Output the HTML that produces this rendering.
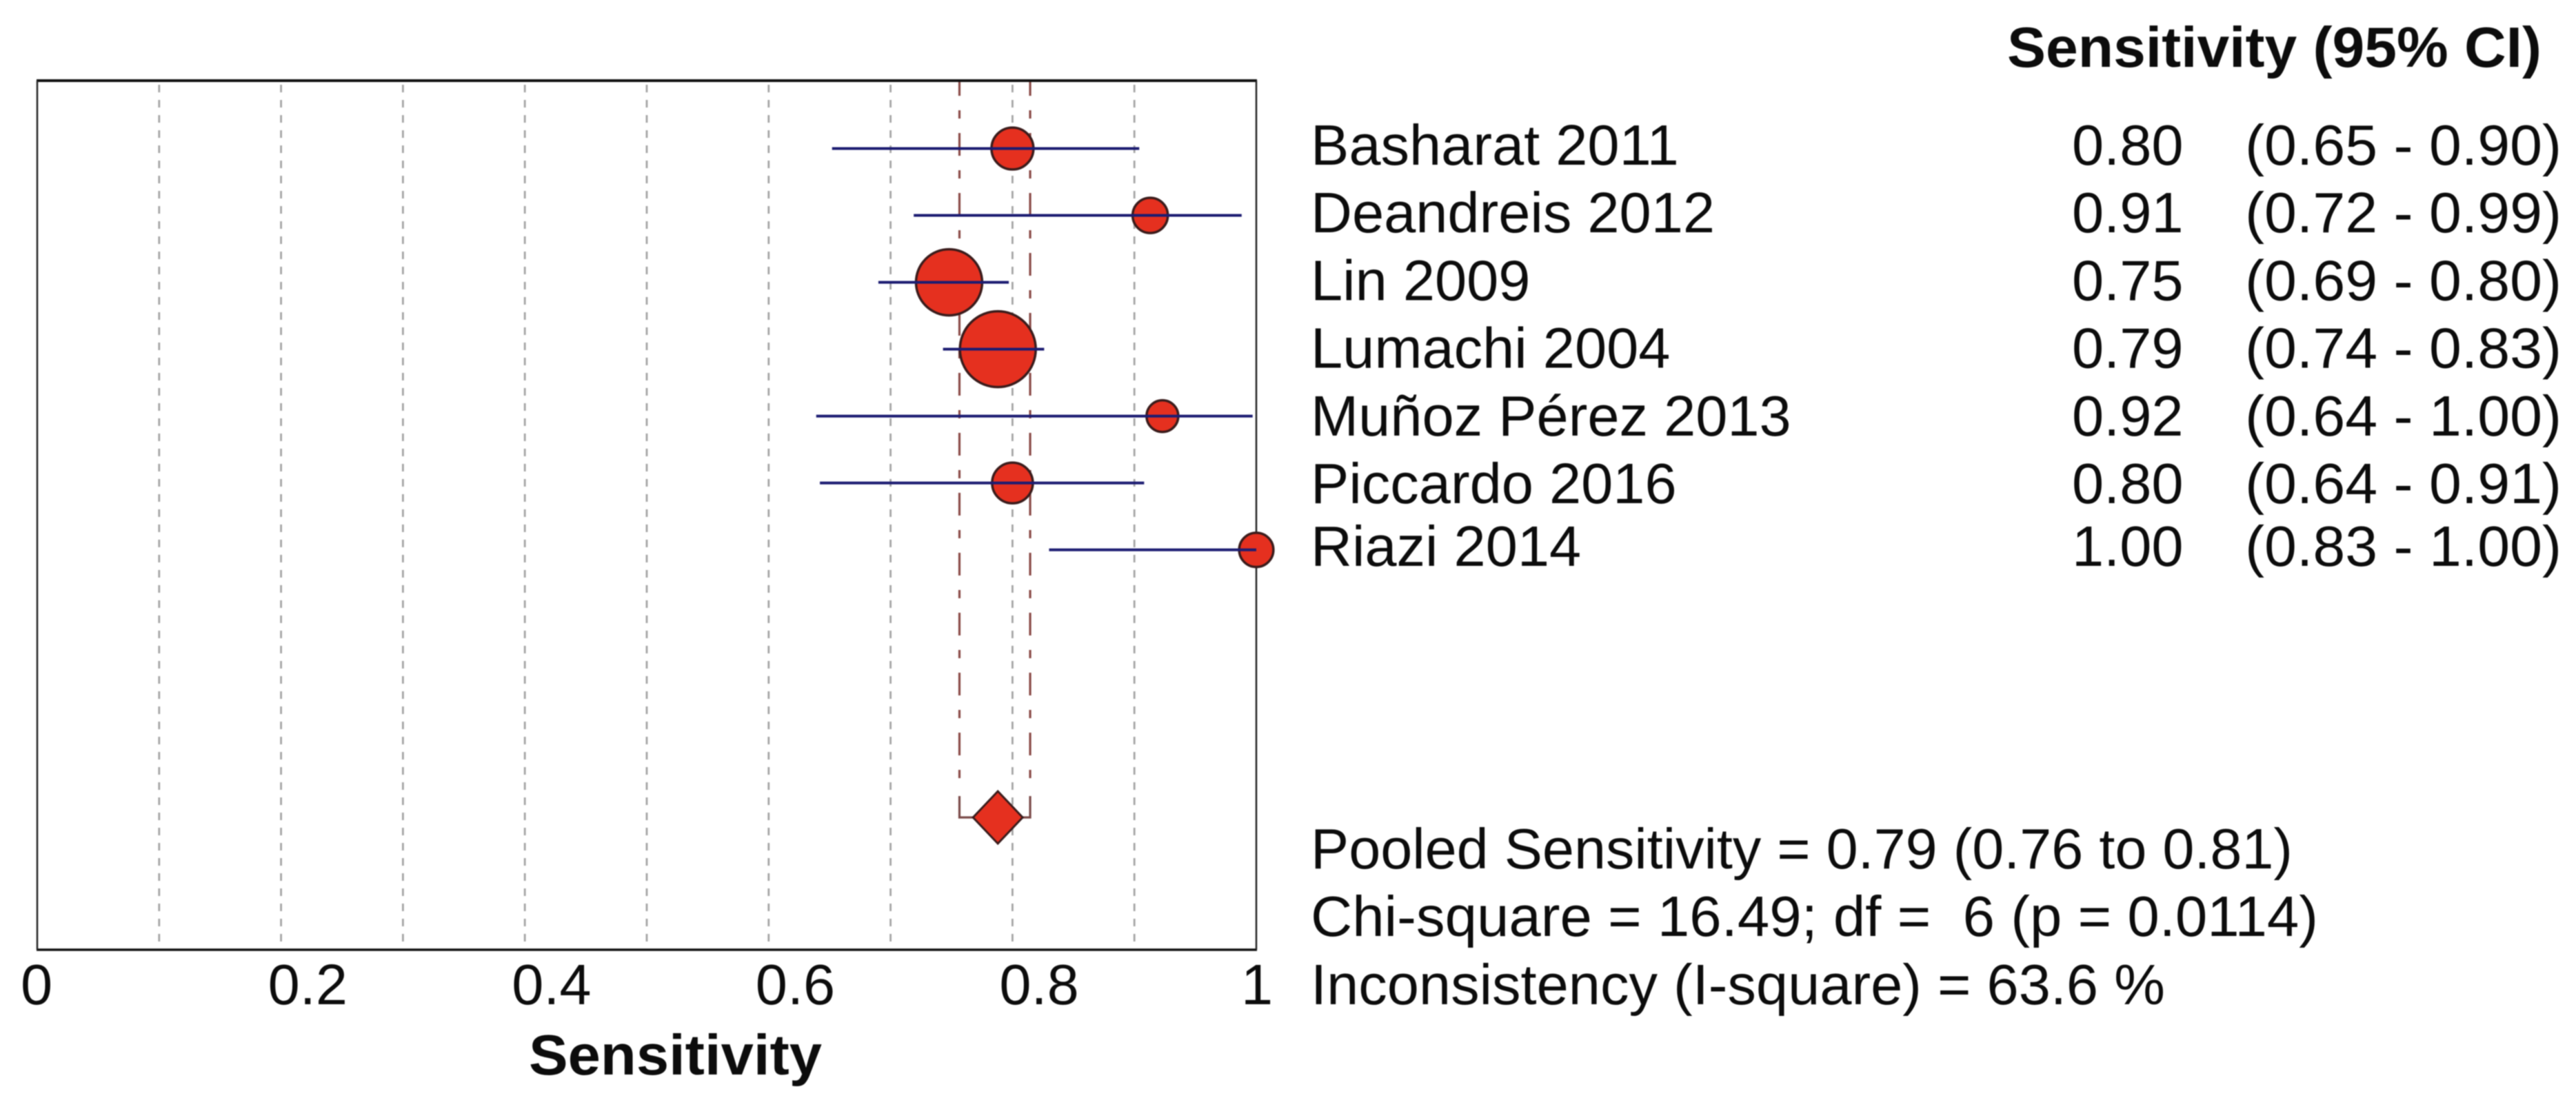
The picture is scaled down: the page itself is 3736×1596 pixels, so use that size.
<!DOCTYPE html>
<html lang="en">
<head>
<meta charset="utf-8">
<title>Sensitivity forest plot</title>
<style>
html,body{margin:0;padding:0;background:#fff;}
body{width:3736px;height:1596px;overflow:hidden;}
svg{display:block;filter:blur(0.7px);}
text{font-family:"Liberation Sans",Arial,sans-serif;font-size:83px;fill:#0c0c0c;white-space:pre;}
.b{font-weight:bold;}
</style>
</head>
<body>
<svg id="chart" xmlns="http://www.w3.org/2000/svg" width="3736" height="1596" viewBox="0 0 3736 1596">
  <rect x="0" y="0" width="3736" height="1596" fill="#ffffff"/>
  <g id="grid"></g>
  <g id="pooled"></g>
  <g id="marks"></g>
  <line x1="53" x2="1823" y1="117" y2="117" stroke="#111" stroke-width="4"/>
  <line x1="53" x2="1823" y1="1378" y2="1378" stroke="#111" stroke-width="3.5"/>
  <line x1="54" x2="54" y1="117" y2="1378" stroke="#222" stroke-width="2.5"/>
  <line x1="1822" x2="1822" y1="117" y2="1378" stroke="#222" stroke-width="2.5"/>
  <g id="riazi-top"></g>
  <g id="ticks"></g>
  <text class="b" x="767" y="1559" textLength="425" lengthAdjust="spacingAndGlyphs">Sensitivity</text>
  <text class="b" x="2911" y="97" textLength="775" lengthAdjust="spacingAndGlyphs">Sensitivity (95% CI)</text>
  <g id="table"></g>
  <text x="1901" y="1260" textLength="1424" lengthAdjust="spacingAndGlyphs">Pooled Sensitivity = 0.79 (0.76 to 0.81)</text>
  <text x="1901" y="1358" textLength="1461" lengthAdjust="spacingAndGlyphs">Chi-square = 16.49; df =  6 (p = 0.0114)</text>
  <text x="1901" y="1457" textLength="1239" lengthAdjust="spacingAndGlyphs">Inconsistency (I-square) = 63.6 %</text>
</svg>
<script>
const studies = ["Basharat 2011","Deandreis 2012","Lin 2009","Lumachi 2004","Muñoz Pérez 2013","Piccardo 2016","Riazi 2014"];
const sensitivity = [0.80,0.913,0.748,0.788,0.923,0.80,1.00];
const ciLow = [0.652,0.719,0.690,0.743,0.639,0.642,0.830];
const ciHigh = [0.904,0.988,0.797,0.826,0.997,0.908,1.00];
const weightPct = [10.5,7.4,26.1,34.3,6.0,9.9,7.0];
const gridValues = [0.1,0.2,0.3,0.4,0.5,0.6,0.7,0.8,0.9];
const tickValues = [0,0.2,0.4,0.6,0.8,1];
const tickLabels = ["0","0.2","0.4","0.6","0.8","1"];
const pooledValue = 0.788;
const pooledLow = 0.7565;
const pooledHigh = 0.8145;

const NS = "http://www.w3.org/2000/svg";
const X0 = 54, X1 = 1822, YT = 117, YB = 1378;
function xScale(v){ return X0 + (X1 - X0) * v; }
function yScale(row){ return 215.5 + 97.05 * row; }
function rScale(w){ return 9.39 * Math.sqrt(w); }
function make(tag, parent, attrs){
  const el = document.createElementNS(NS, tag);
  for (const k in attrs) el.setAttribute(k, attrs[k]);
  parent.appendChild(el);
  return el;
}

const grid = document.getElementById("grid");
gridValues.forEach(function(v){
  const el = make("line", grid, {x1:xScale(v), x2:xScale(v), y1:YT, y2:YB, stroke:"#a4a4a4", "stroke-width":2.8, "stroke-dasharray":"11 11", "stroke-dashoffset":16});
  
  
});

const pooled = document.getElementById("pooled");
const pooledY = yScale(10);
[pooledLow, pooledHigh].forEach(function(v){
  const g = make("line", pooled, {x1:xScale(v), x2:xScale(v), y1:YT, y2:1150, stroke:"#8a4a46", "stroke-width":3.2, "stroke-dasharray":"33 21 12 21", "stroke-dashoffset":11});
  
  
});
const bracket = make("path", pooled, {
  d:"M"+xScale(pooledLow)+" 1155V"+pooledY+"H"+xScale(pooledHigh)+"V1155",
  fill:"none", stroke:"#7a4a48", "stroke-width":3.2});


const px = xScale(pooledValue);
const diamond = make("polygon", pooled, {
  points:(px-36)+","+pooledY+" "+px+","+(pooledY-38)+" "+(px+36)+","+pooledY+" "+px+","+(pooledY+38),
  fill:"#e5301f", stroke:"#3a1c1c", "stroke-width":3});



const marks = document.getElementById("marks");
const topMarks = document.getElementById("riazi-top");
studies.forEach(function(name, i){
  const y = yScale(i);
  const host = sensitivity[i] >= 0.99 ? topMarks : marks;
  const c = make("circle", host, {cx:xScale(sensitivity[i]), cy:y, r:rScale(weightPct[i]), fill:"#e5301f", stroke:"#3a1c1c", "stroke-width":3.5});
  
  
  const l = make("line", host, {x1:xScale(ciLow[i]), x2:xScale(ciHigh[i]), y1:y, y2:y, stroke:"#1c1c72", "stroke-width":4});
  
  
});

const ticks = document.getElementById("ticks");
tickValues.forEach(function(v, i){
  const off = tickLabels[i].length > 1 ? -19 : (v === 0 ? -24 : -22);
  const t = make("text", ticks, {x:xScale(v) + off, y:1457});
  t.textContent = tickLabels[i];
  
  
});

const table = document.getElementById("table");
studies.forEach(function(name, i){
  const y = 239 + 98.2 * Math.min(i, 5) + (i > 5 ? 91 : 0);
  const n = make("text", table, {x:1901, y:y});
  n.textContent = name;
  
  
  const v = make("text", table, {x:3005, y:y});
  v.textContent = sensitivity[i].toFixed(2);
  
  
  const c = make("text", table, {x:3256, y:y, textLength:459, lengthAdjust:"spacingAndGlyphs"});
  c.textContent = "(" + ciLow[i].toFixed(2) + " - " + ciHigh[i].toFixed(2) + ")";
  
  
});
</script>
</body>
</html>
